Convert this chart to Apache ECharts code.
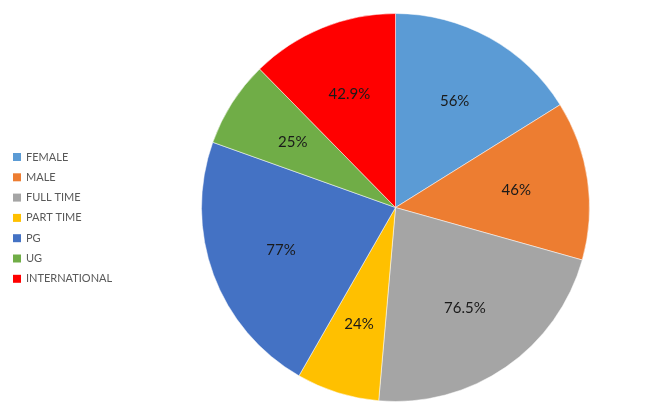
<!DOCTYPE html>
<html>
<head>
<meta charset="utf-8">
<script src="https://cdn.jsdelivr.net/npm/echarts@6/dist/echarts.min.js"></script>
<style>
html,body{margin:0;padding:0;background:#fff;}
#chart{width:665px;height:415px;}
</style>
</head>
<body>
<div id="chart"></div>
<script>
const categories = ['FEMALE', 'MALE', 'FULL TIME', 'PART TIME', 'PG', 'UG', 'INTERNATIONAL'];
const values = [56, 46, 76.5, 24, 77, 25, 42.9];
const colors = ['#5B9BD5', '#ED7D31', '#A5A5A5', '#FFC000', '#4472C4', '#70AD47', '#FF0000'];

const chart = echarts.init(document.getElementById('chart'), null, {renderer: 'canvas'});
const mainData = categories.map((c, i) => ({name: c, value: values[i], itemStyle: {color: colors[i]}}));
const labelData = categories.map((c, i) => ({name: c, value: values[i]}));

chart.setOption({
  animation: false,
  backgroundColor: '#fff',
  legend: {
    orient: 'vertical',
    left: 8,
    top: 145,
    itemWidth: 8,
    itemHeight: 8,
    itemGap: 6.3,
    icon: 'rect',
    itemTextGap: 5,
    itemStyle: {borderWidth: 0},
    data: categories,
    textStyle: {fontFamily: 'Lato', fontSize: 11, color: '#595959', lineHeight: 14}
  },
  series: [
    {
      type: 'pie',
      center: [395.5, 207.5],
      radius: [0, 194],
      startAngle: 90,
      clockwise: true,
      data: mainData,
      label: {show: false},
      labelLine: {show: false},
      itemStyle: {borderColor: '#fff', borderWidth: 0.5},
      silent: true
    },
    {
      type: 'pie',
      center: [395.5, 207.5],
      radius: [44, 194],
      startAngle: 90,
      clockwise: true,
      data: labelData,
      itemStyle: {color: 'rgba(0,0,0,0)'},
      label: {
        show: true,
        position: 'inside',
        formatter: p => p.value + '%',
        fontFamily: 'Lato',
        fontSize: 15,
        color: '#1a1a1a'
      },
      labelLine: {show: false},
      silent: true,
      legendHoverLink: false
    }
  ]
});
</script>
</body>
</html>
